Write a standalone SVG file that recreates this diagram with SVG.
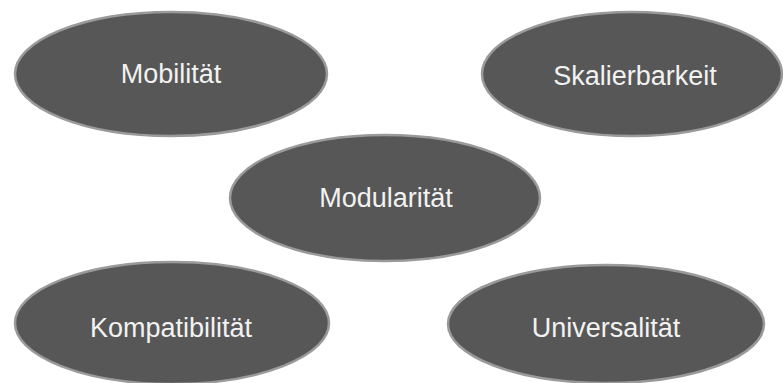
<svg xmlns="http://www.w3.org/2000/svg" width="783" height="383" viewBox="0 0 783 383">
<style>
.n ellipse{fill:#575757;stroke:#9a9a9a;stroke-width:2.5}
.n text{fill:#f2f2f2;font-family:"Liberation Sans",Arial,sans-serif;font-size:27px;text-anchor:middle}
</style>
<rect width="783" height="383" fill="#ffffff"/>
<g id="connectors"></g>
<g id="mobilitaet" class="n"><ellipse cx="171" cy="74" rx="156" ry="62"/><text x="171" y="83">Mobilität</text></g>
<g id="skalierbarkeit" class="n"><ellipse cx="632" cy="74" rx="150" ry="62"/><text x="635" y="85">Skalierbarkeit</text></g>
<g id="modularitaet" class="n"><ellipse cx="385" cy="198" rx="155" ry="63"/><text x="386" y="207">Modularität</text></g>
<g id="kompatibilitaet" class="n"><ellipse cx="172" cy="323" rx="157" ry="61"/><text x="171" y="337">Kompatibilität</text></g>
<g id="universalitaet" class="n"><ellipse cx="606" cy="324" rx="158" ry="59"/><text x="606" y="337">Universalität</text></g>
</svg>
